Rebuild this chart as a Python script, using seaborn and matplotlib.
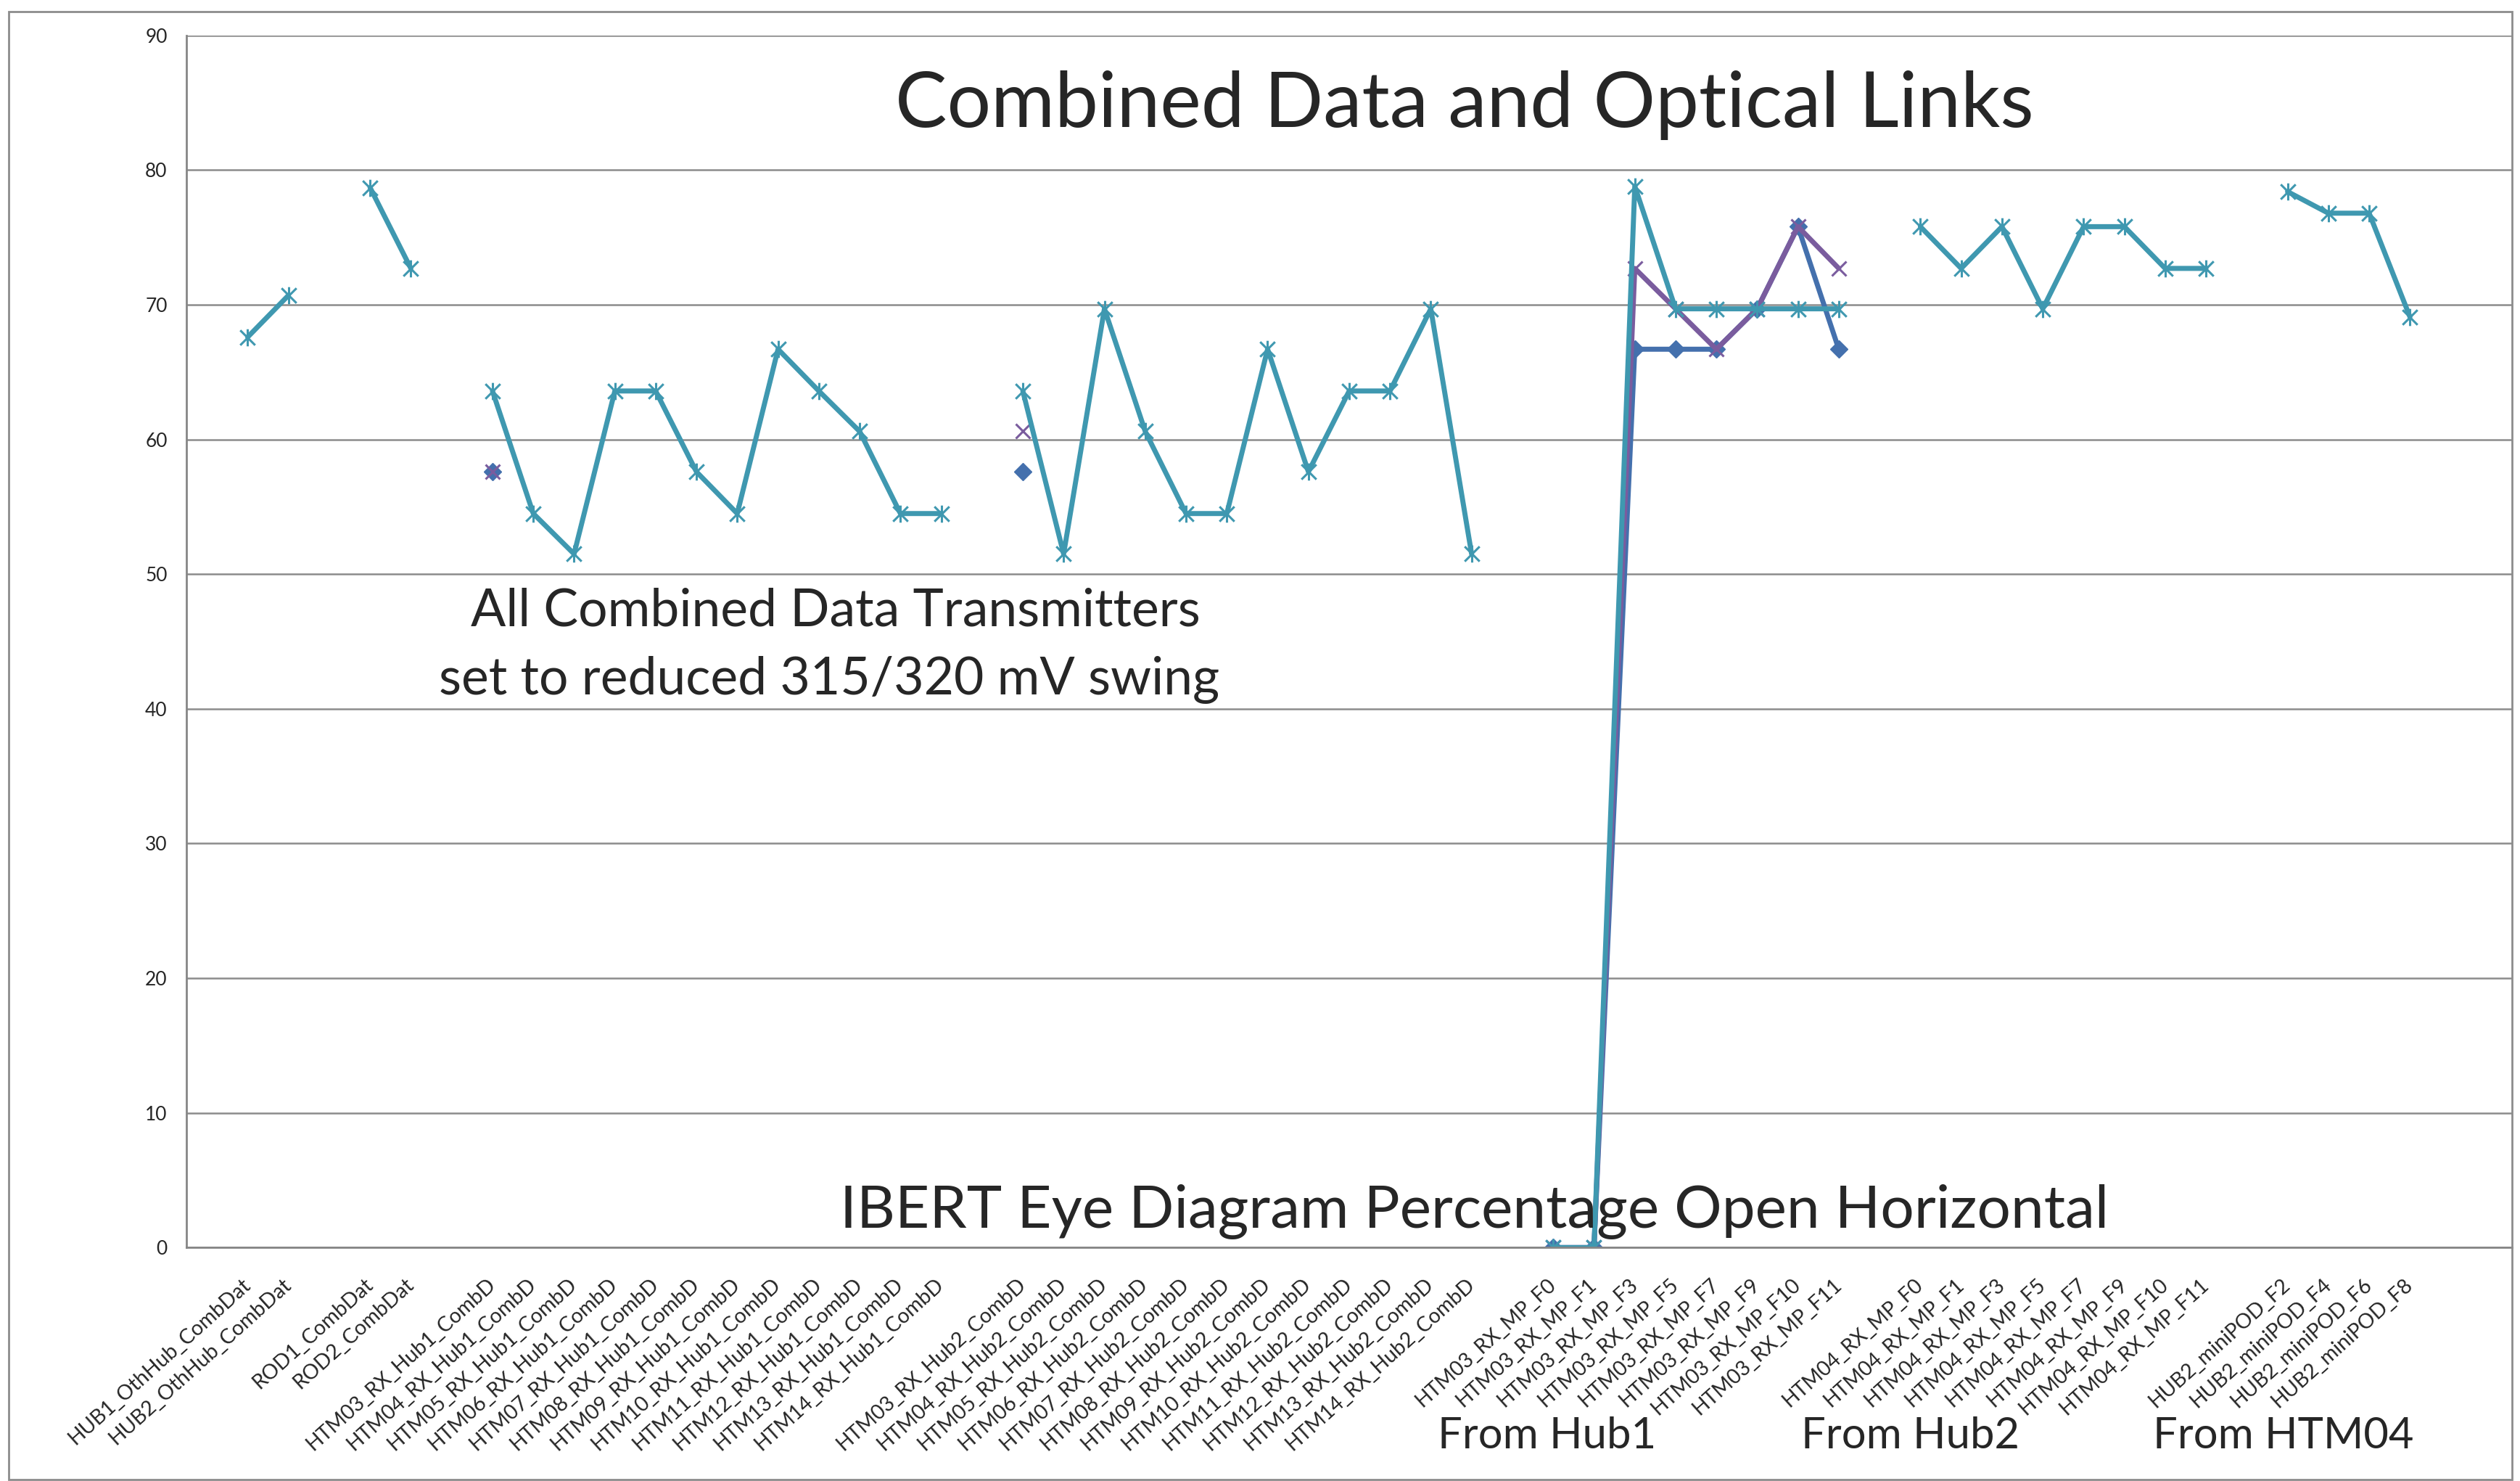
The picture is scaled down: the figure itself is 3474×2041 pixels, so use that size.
import matplotlib
matplotlib.use("Agg")
import matplotlib.pyplot as plt
import seaborn as sns
import numpy as np
import pandas as pd
from matplotlib.path import Path
from matplotlib.patches import Rectangle

nan = np.nan

# Category labels (blank strings are empty slots on the Excel axis)
categories = [
    "", "HUB1_OthHub_CombDat", "HUB2_OthHub_CombDat", "", "ROD1_CombDat", "ROD2_CombDat", "",
    "HTM03_RX_Hub1_CombD", "HTM04_RX_Hub1_CombD", "HTM05_RX_Hub1_CombD", "HTM06_RX_Hub1_CombD",
    "HTM07_RX_Hub1_CombD", "HTM08_RX_Hub1_CombD", "HTM09_RX_Hub1_CombD", "HTM10_RX_Hub1_CombD",
    "HTM11_RX_Hub1_CombD", "HTM12_RX_Hub1_CombD", "HTM13_RX_Hub1_CombD", "HTM14_RX_Hub1_CombD", "",
    "HTM03_RX_Hub2_CombD", "HTM04_RX_Hub2_CombD", "HTM05_RX_Hub2_CombD", "HTM06_RX_Hub2_CombD",
    "HTM07_RX_Hub2_CombD", "HTM08_RX_Hub2_CombD", "HTM09_RX_Hub2_CombD", "HTM10_RX_Hub2_CombD",
    "HTM11_RX_Hub2_CombD", "HTM12_RX_Hub2_CombD", "HTM13_RX_Hub2_CombD", "HTM14_RX_Hub2_CombD", "",
    "HTM03_RX_MP_F0", "HTM03_RX_MP_F1", "HTM03_RX_MP_F3", "HTM03_RX_MP_F5", "HTM03_RX_MP_F7",
    "HTM03_RX_MP_F9", "HTM03_RX_MP_F10", "HTM03_RX_MP_F11", "",
    "HTM04_RX_MP_F0", "HTM04_RX_MP_F1", "HTM04_RX_MP_F3", "HTM04_RX_MP_F5", "HTM04_RX_MP_F7",
    "HTM04_RX_MP_F9", "HTM04_RX_MP_F10", "HTM04_RX_MP_F11", "",
    "HUB2_miniPOD_F2", "HUB2_miniPOD_F4", "HUB2_miniPOD_F6", "HUB2_miniPOD_F8", "", "",
]

# main series (teal)
teal_vals = [
    nan, 67.6, 70.7, nan, 78.7, 72.7, nan,
    63.6, 54.5, 51.5, 63.6, 63.6, 57.6, 54.5, 66.7, 63.6, 60.6, 54.5, 54.5, nan,
    63.6, 51.5, 69.7, 60.6, 54.5, 54.5, 66.7, 57.6, 63.6, 63.6, 69.7, 51.5, nan,
    0, 0, 78.8, 69.7, 69.7, 69.7, 69.7, 69.7, nan,
    75.8, 72.7, 75.8, 69.7, 75.8, 75.8, 72.7, 72.7, nan,
    78.4, 76.8, 76.8, 69.1, nan, nan,
]

# second series (blue diamonds)
blue_vals = [nan] * 7 + [57.6] + [nan] * 12 + [57.6] + [nan] * 12 + \
    [0, 0, 66.7, 66.7, 66.7, 69.7, 75.8, 66.7] + [nan] * 16

# third series (purple x)
purple_vals = [nan] * 7 + [57.6] + [nan] * 12 + [60.6] + [nan] * 12 + \
    [0, 0, 72.7, 69.7, 66.7, 69.7, 75.8, 72.7] + [nan] * 16

teal = "#3f98b0"
blue = "#4470ad"
purple = "#7a5c9e"

sns.set_theme(style="white")
plt.rcParams["font.family"] = ["Lato", "DejaVu Sans"]

fig = plt.figure(figsize=(34.74, 20.41), dpi=100)
ax = fig.add_axes([0.0740, 0.1576, 0.9968 - 0.0740, 0.9761 - 0.1576])

# Excel-style asterisk marker: an x with a vertical bar
asterisk = Path([(-1, -1), (1, 1), (-1, 1), (1, -1), (0, -1.15), (0, 1.15)],
                [Path.MOVETO, Path.LINETO] * 3)


def to_frame(vals):
    df = pd.DataFrame({"pos": np.arange(len(vals)), "value": vals})
    # break the line wherever Excel had an empty cell
    df["segment"] = df["value"].isna().cumsum()
    return df.dropna()


series = [
    (blue_vals, blue, "D", 12, 1.0),
    (purple_vals, purple, "x", 15, 2.2),
    (teal_vals, teal, asterisk, 17, 2.2),
]
for vals, col, mk, ms, mew in series:
    sns.lineplot(data=to_frame(vals), x="pos", y="value", units="segment",
                 estimator=None, sort=False, color=col, lw=5, marker=mk,
                 ms=ms, mew=mew, mec=col, mfc=col, ax=ax, legend=False)

ax.set_xlim(-0.5, len(categories) - 0.5)
ax.set_ylim(0, 90)
ax.set_yticks(np.arange(0, 91, 10))
ax.set_xticks(np.arange(len(categories)))
ax.set_xticklabels(categories, rotation=42, ha="right", rotation_mode="anchor",
                   fontsize=20.5, va="center")
ax.set_xticks(np.arange(-0.5, len(categories), 1), minor=True)
ax.tick_params(axis="x", which="major", length=0, pad=34)
ax.tick_params(axis="x", which="minor", length=11, width=1.5, color="#868686", direction="out")
ax.tick_params(axis="y", length=11, width=1.5, color="#868686", direction="out",
               labelsize=19, pad=8)
ax.set_xlabel("")
ax.set_ylabel("")
ax.yaxis.grid(True, color="#8c8c8c", lw=1.8)
ax.set_axisbelow(True)
for s in ["top", "right"]:
    ax.spines[s].set_visible(False)
for s in ["left", "bottom"]:
    ax.spines[s].set_color("#868686")
    ax.spines[s].set_linewidth(2)

# annotations
fig.text(0.581, 0.929, "Combined Data and Optical Links", fontsize=77,
         ha="center", va="center")
fig.text(0.3316, 0.5874, "All Combined Data Transmitters", fontsize=51.5,
         ha="center", va="center")
fig.text(0.329, 0.5407, "set to reduced 315/320 mV swing", fontsize=51.5,
         ha="center", va="center")
fig.text(0.585, 0.182, "IBERT Eye Diagram Percentage Open Horizontal", fontsize=59,
         ha="center", va="center")
for xf, txt in [(0.614, "From Hub1"), (0.758, "From Hub2"), (0.906, "From HTM04")]:
    fig.text(xf, 0.0304, txt, fontsize=43, ha="center", va="center")

# chart-area border
fig.patches.append(Rectangle((0.0035, 0.001), 0.9933, 0.991, transform=fig.transFigure,
                             fill=False, edgecolor="#8c8c8c", lw=2))

fig.savefig("out.png", dpi=100)
